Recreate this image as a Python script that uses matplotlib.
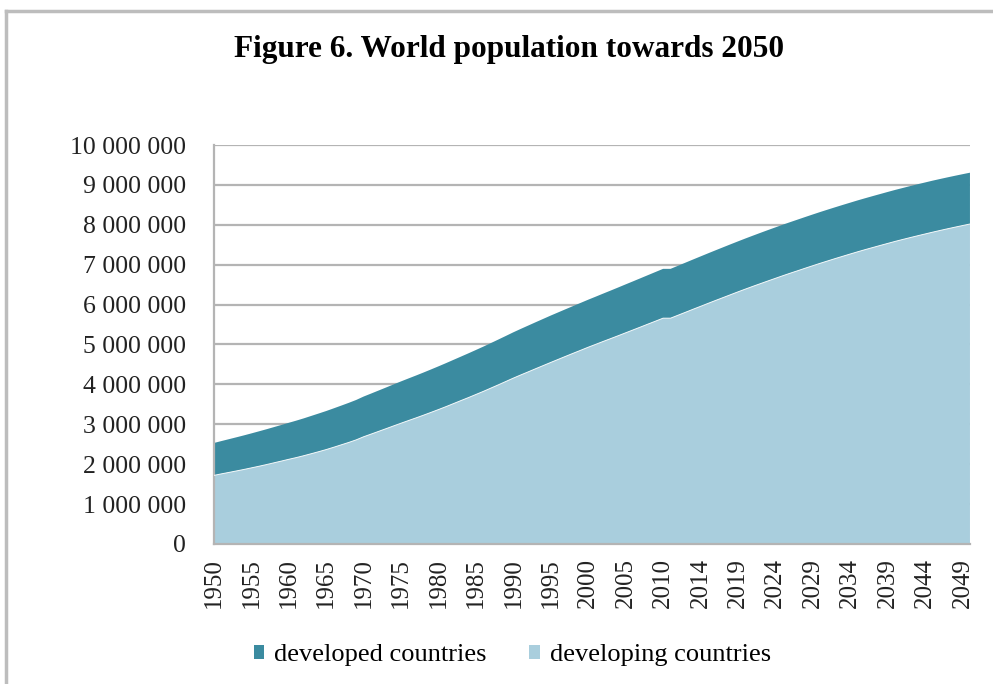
import numpy as np
import matplotlib
matplotlib.use("Agg")
import matplotlib.pyplot as plt
from matplotlib.lines import Line2D
from matplotlib.ticker import FuncFormatter

# categories (the source repeats 2010: estimates end and projections start there)
years = [str(y) for y in range(1950, 2011)] + [str(y) for y in range(2010, 2051)]

# population in thousands of thousands
developing = [1720, 1758, 1794, 1831, 1868, 1908, 1948, 1990, 2034, 2078,
              2123, 2166, 2213, 2263, 2314, 2367, 2425, 2485, 2545, 2610,
              2688, 2755, 2823, 2891, 2960, 3028, 3095, 3161, 3229, 3299,
              3370, 3443, 3519, 3595, 3670, 3748, 3826, 3908, 3990, 4074,
              4158, 4238, 4316, 4395, 4473, 4551, 4628, 4705, 4781, 4856,
              4932, 5004, 5077, 5148, 5220, 5293, 5366, 5439, 5513, 5586,
              5660,
              5660, 5734, 5808, 5883, 5956, 6030, 6103, 6175, 6247, 6319,
              6389, 6458, 6525, 6592, 6658, 6724, 6788, 6850, 6913, 6975,
              7036, 7095, 7154, 7211, 7268, 7324, 7378, 7430, 7482, 7533,
              7584, 7632, 7679, 7725, 7770, 7815, 7858, 7900, 7941, 7981,
              8020]
developed = [812, 822, 833, 843, 854, 864, 875, 885, 895, 905,
             915, 926, 936, 947, 957, 966, 975, 983, 992, 1000,
             1008, 1016, 1024, 1032, 1040, 1048, 1055, 1062, 1069, 1076,
             1083, 1090, 1096, 1102, 1109, 1115, 1122, 1128, 1135, 1141,
             1148, 1154, 1160, 1165, 1170, 1175, 1178, 1181, 1184, 1188,
             1191, 1195, 1199, 1204, 1209, 1214, 1218, 1223, 1227, 1232,
             1236,
             1236, 1240, 1244, 1247, 1251, 1254, 1257, 1260, 1263, 1265,
             1268, 1270, 1273, 1275, 1277, 1279, 1280, 1282, 1283, 1284,
             1285, 1286, 1286, 1287, 1287, 1288, 1288, 1289, 1289, 1290,
             1290, 1290, 1291, 1291, 1291, 1291, 1290, 1289, 1288, 1287,
             1286]

dark = "#3b8ba0"
light = "#a9cedd"
grid = "#b4b4b4"

plt.rcParams['font.family'] = ['Liberation Serif', 'DejaVu Serif']

fig = plt.figure(figsize=(9.93, 6.84), dpi=100)
ax = fig.add_axes([0.2155, 0.2047, 0.7613, 0.5833])

x = np.arange(len(years))
dv = np.array(developing) * 1000
dd = np.array(developed) * 1000
ax.stackplot(x, dv, dd, colors=[light, dark], labels=["developing countries", "developed countries"],
             zorder=2)
ax.plot(x, dv, color="white", lw=0.7, alpha=0.9, zorder=3)

ax.set_xlim(0, len(years) - 1)
ax.set_ylim(0, 10000000)
ax.set_yticks(np.arange(0, 10000001, 1000000))
ax.yaxis.set_major_formatter(FuncFormatter(lambda v, p: f"{int(v):,}".replace(",", " ")))
ax.set_xticks(x[::5])
ax.set_xticklabels(years[::5], rotation=90)
ax.tick_params(length=0, colors="#222222")
ax.tick_params(axis="y", pad=20, labelsize=18.5)
ax.tick_params(axis="x", pad=10, labelsize=18)
ax.grid(axis="y", color=grid, lw=1.6, zorder=0)
ax.set_axisbelow(True)
for s in ["top", "right"]:
    ax.spines[s].set_visible(False)
for s in ["left", "bottom"]:
    ax.spines[s].set_color(grid)
    ax.spines[s].set_linewidth(1.6)

fig.text(0.513, 0.927, "Figure 6. World population towards 2050", ha="center", va="center",
         fontsize=22.5, fontweight="bold")

h, l = ax.get_legend_handles_labels()
fig.legend(h[::-1], l[::-1], loc="center", bbox_to_anchor=(0.516, 0.042), ncol=2, frameon=False,
           fontsize=19, handlelength=0.4, handleheight=0.4, handletextpad=0.38, columnspacing=1.6)

# outer frame of the chart
fig.add_artist(Line2D([0.006, 1.0], [0.984, 0.984], color="#bdbdbd", lw=2.5))
fig.add_artist(Line2D([0.006, 0.006], [0.0, 0.984], color="#bdbdbd", lw=2.5))

fig.savefig("out.png", dpi=100)
